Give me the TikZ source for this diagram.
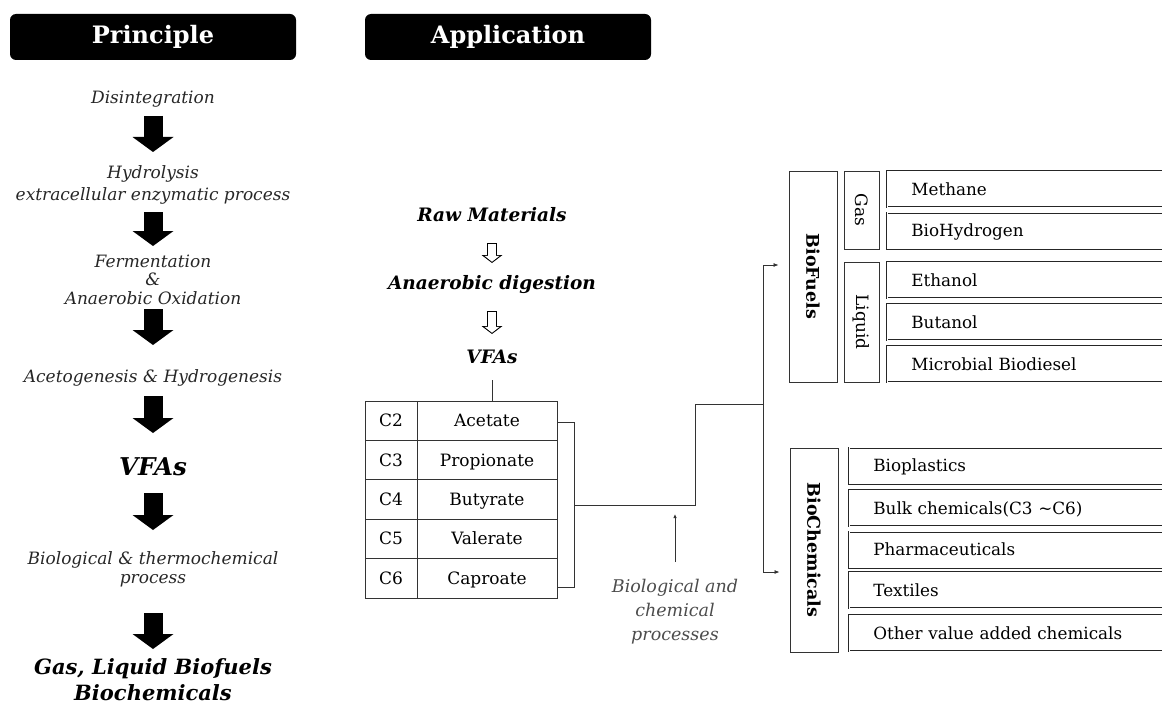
\documentclass[tikz,border=0pt]{standalone}
\usepackage{fontspec}
\setmainfont{DejaVu Serif}
\usetikzlibrary{arrows.meta}

\tikzset{
  hdr/.style={fill=black, rounded corners=6pt, minimum width=286pt, minimum height=46pt,
    text=white, font=\fontsize{24}{28}\selectfont\bfseries},
  stage/.style={align=center, inner sep=0pt, text=black!85,
    font=\fontsize{17}{22}\selectfont\itshape},
  big/.style={align=center, inner sep=0pt, font=\fontsize{21}{26}\selectfont\bfseries\itshape},
  mid/.style={inner sep=0pt, font=\fontsize{18.5}{22}\selectfont\bfseries\itshape},
  blk/.style={line width=19pt, -{Triangle[length=15pt,width=41pt,line width=0pt]}},
  holo/.style={line width=10pt, -{Triangle[length=8pt,width=21pt,line width=0pt]}},
  holoin/.style={white, line width=8pt, -{Triangle[length=5.8pt,width=15pt,line width=0pt]}},
  line/.style={line width=0.8pt, draw=black!80},
  cell/.style={draw=black!80, line width=1pt, minimum height=39.4pt, inner sep=0pt,
    text height=12.5pt, text depth=0.5pt, font=\fontsize{17}{20}\selectfont},
  grp/.style={draw=black!80, line width=0.9pt, inner sep=0pt},
  item/.style={draw=black!85, double, double distance=0.6pt, line width=0.7pt, anchor=west,
    minimum height=36pt, inner xsep=24pt, align=left, text height=12.5pt, text depth=0.5pt,
    font=\fontsize{16.8}{20}\selectfont},
  note/.style={align=center, inner sep=0pt, text=black!70,
    font=\fontsize{17.5}{24}\selectfont\itshape}
}

\begin{document}
\begin{tikzpicture}[x=1pt, y=-1pt]
\useasboundingbox (0,0) rectangle (1162,706);

% headers
\node[hdr] (prin) at (153,37) {Principle};
\node[hdr] (appl) at (508,37) {Application};

% principle
\node[stage] (dis) at (153,99) {Disintegration};
\node[stage] (hyd) at (153,185) {Hydrolysis\\extracellular enzymatic process};
\node[stage, font=\fontsize{17}{18.5}\selectfont\itshape] (fer) at (153,279.5) {Fermentation\\\&\\Anaerobic Oxidation};
\node[stage] (ace) at (153,378) {Acetogenesis \& Hydrogenesis};
\node[big, font=\fontsize{24.5}{28}\selectfont\bfseries\itshape] (vfa) at (153,467) {VFAs};
\node[stage, font=\fontsize{17}{19}\selectfont\itshape] (bio) at (153,569.5) {Biological \& thermochemical\\process};
\node[big] (out) at (153,680) {Gas, Liquid Biofuels\\Biochemicals};

\draw[blk, shorten <=17pt, shorten >=33pt] (dis.center) -- (hyd.center);
\draw[blk, shorten <=27pt, shorten >=33.5pt] (hyd.center) -- (fer.center);
\draw[blk, shorten <=29.5pt, shorten >=33pt] (fer.center) -- (ace.center);
\draw[blk, shorten <=18pt, shorten >=34pt] (ace.center) -- (vfa.center);
\draw[blk, shorten <=26pt, shorten >=39.5pt] (vfa.center) -- (bio.center);
\draw[blk, shorten <=43.5pt, shorten >=31pt] (bio.center) -- (out.center);

% application
\node[mid] (raw) at (492,215) {Raw Materials};
\node[mid] (ana) at (492,285) {Anaerobic digestion};
\node[mid] (vf2) at (492,357) {VFAs};

\draw[holo, shorten <=28pt, shorten >=22pt] (raw.center) -- (ana.center);
\draw[holoin, shorten <=29pt, shorten >=23.3pt] (raw.center) -- (ana.center);
\draw[holo, shorten <=26pt, shorten >=23pt] (ana.center) -- (vf2.center);
\draw[holoin, shorten <=27pt, shorten >=24.3pt] (ana.center) -- (vf2.center);

% VFA table
\foreach \c/\n [count=\i] in {C2/Acetate, C3/Propionate, C4/Butyrate, C5/Valerate, C6/Caproate}{
  \node[cell, minimum width=52pt] (c\i) at (391,381.3+\i*39.4) {\c};
  \node[cell, minimum width=140pt] (n\i) at (487,381.3+\i*39.4) {\n};
}
\draw[line, shorten <=23pt] (vf2.center) -- (vf2 |- n1.north);
\draw[line] ([yshift=-1.3pt]n1.east) -- ++(17,0) |- ([yshift=-8.7pt]n5.east);

% routing
\coordinate (br) at (574,505);
\coordinate (hub) at (763,404);
\draw[line] (br) -- ++(121,0) |- (hub);

\node[note] (proc) at (675,612) {Biological and\\chemical\\processes};
\coordinate (procup) at (675,514);
\draw[line, -{Latex[length=4pt,width=3.5pt]}, shorten <=50pt] (proc.center) -- (procup);

% biofuels
\node[grp, minimum width=48pt, minimum height=211pt, font=\fontsize{17.5}{20}\selectfont\bfseries] (fuel) at (813,276.5) {\rotatebox{-90}{BioFuels}};
\node[grp, minimum width=35pt, minimum height=78pt, font=\fontsize{17}{20}\selectfont] (gas) at (861.5,210) {\rotatebox{-90}{Gas}};
\node[grp, minimum width=35pt, minimum height=120pt, font=\fontsize{17}{20}\selectfont] (liq) at (861.5,322) {\rotatebox{-90}{Liquid}};
\foreach \t/\y [count=\i] in {Methane/189, BioHydrogen/230.5, Ethanol/280, Butanol/322, Microbial Biodiesel/364}
  \node[item, text width=242pt] (f\i) at (887,\y) {\t};

% biochemicals
\node[grp, minimum width=48pt, minimum height=204pt, font=\fontsize{17.5}{20}\selectfont\bfseries] (chem) at (814,550) {\rotatebox{-90}{BioChemicals}};
\foreach \t/\y [count=\i] in {Bioplastics/465.5, Bulk chemicals(C3 \textasciitilde{}C6)/508, Pharmaceuticals/549.5, Textiles/590, Other value added chemicals/633}
  \node[item, text width=282pt] (b\i) at (849,\y) {\t};

\draw[line, -{Latex[length=5pt,width=4pt]}, shorten >=10pt] (hub) |- ([yshift=11.5pt]fuel.west);
\draw[line, -{Latex[length=5pt,width=4pt]}, shorten >=10pt] (hub) |- ([yshift=-22pt]chem.west);
\end{tikzpicture}
\end{document}
